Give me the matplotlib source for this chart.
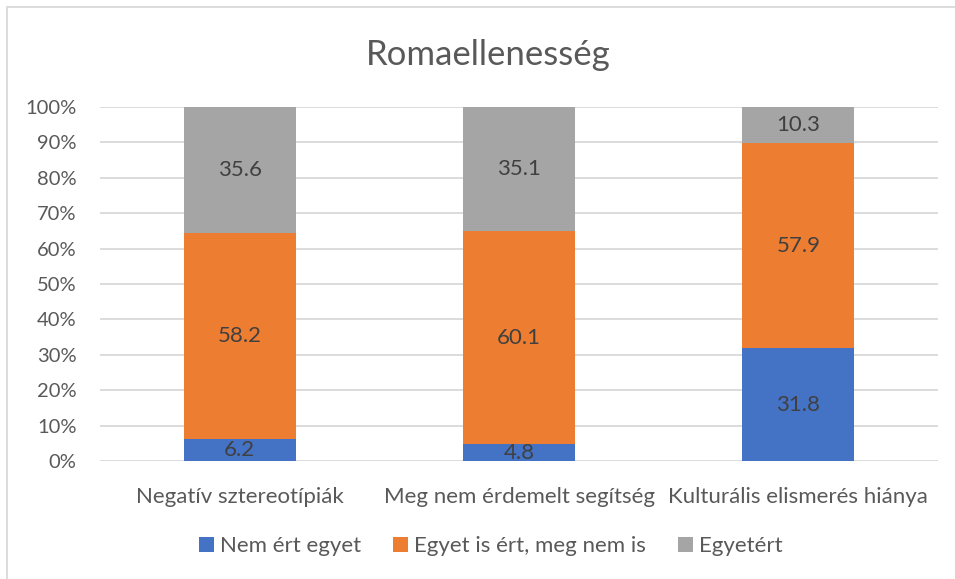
import numpy as np
import matplotlib.pyplot as plt
from matplotlib.patches import Rectangle

plt.rcParams['font.family'] = ['Lato', 'DejaVu Sans']

# Adatok
categories = ["Negatív sztereotípiák", "Meg nem érdemelt segítség", "Kulturális elismerés hiánya"]
series_names = ["Nem ért egyet", "Egyet is ért, meg nem is", "Egyetért"]
nem_ert = [6.2, 4.8, 31.8]
kozepes = [58.2, 60.1, 57.9]
egyetert = [35.6, 35.1, 10.3]
colors = ["#4472C4", "#ED7D31", "#A5A5A5"]

fig = plt.figure(figsize=(9.55, 5.79), dpi=100)
ax = fig.add_axes([100/955, 1-461/579, 838/955, 354/579])

# keret
fig.patches.append(Rectangle((7/955, -0.1), 1.2, 1 - 7/579 + 0.1, transform=fig.transFigure,
                             fill=False, edgecolor="#D9D9D9", linewidth=1.3))

x = np.arange(len(categories))
bottom = np.zeros(len(categories))
for name, vals, c in zip(series_names, [nem_ert, kozepes, egyetert], colors):
    vals = np.array(vals)
    bars = ax.bar(x, vals, 0.4, bottom=bottom, color=c, label=name, zorder=3)
    ax.bar_label(bars, labels=[f"{v:.1f}" for v in vals], label_type="center",
                 fontsize=16, color="#404040")
    bottom += vals

ax.set_xlim(-0.5, 2.5)
ax.set_ylim(0, 100)
ax.set_yticks(np.arange(0, 101, 10))
ax.set_yticklabels([f"{t}%" for t in range(0, 101, 10)])
ax.set_xticks(x)
ax.set_xticklabels(categories)
ax.tick_params(axis="y", length=0, pad=17, labelsize=14.5, labelcolor="#595959")
ax.tick_params(axis="x", length=0, pad=19, labelsize=16, labelcolor="#595959")
ax.grid(axis="y", color="#D9D9D9", linewidth=1.3, zorder=0)
for s in ax.spines.values():
    s.set_visible(False)

fig.text(0.511, 1-55/579, "Romaellenesség", ha="center", va="center",
         fontsize=25, color="#595959")

fig.legend(loc="center", bbox_to_anchor=(0.514, 1-546/579), ncol=3, frameon=False,
           handlelength=0.68, handleheight=0.68, handletextpad=0.25, columnspacing=1.45,
           prop={"size": 16}, labelcolor="#595959")

fig.savefig("out.png", dpi=100)
